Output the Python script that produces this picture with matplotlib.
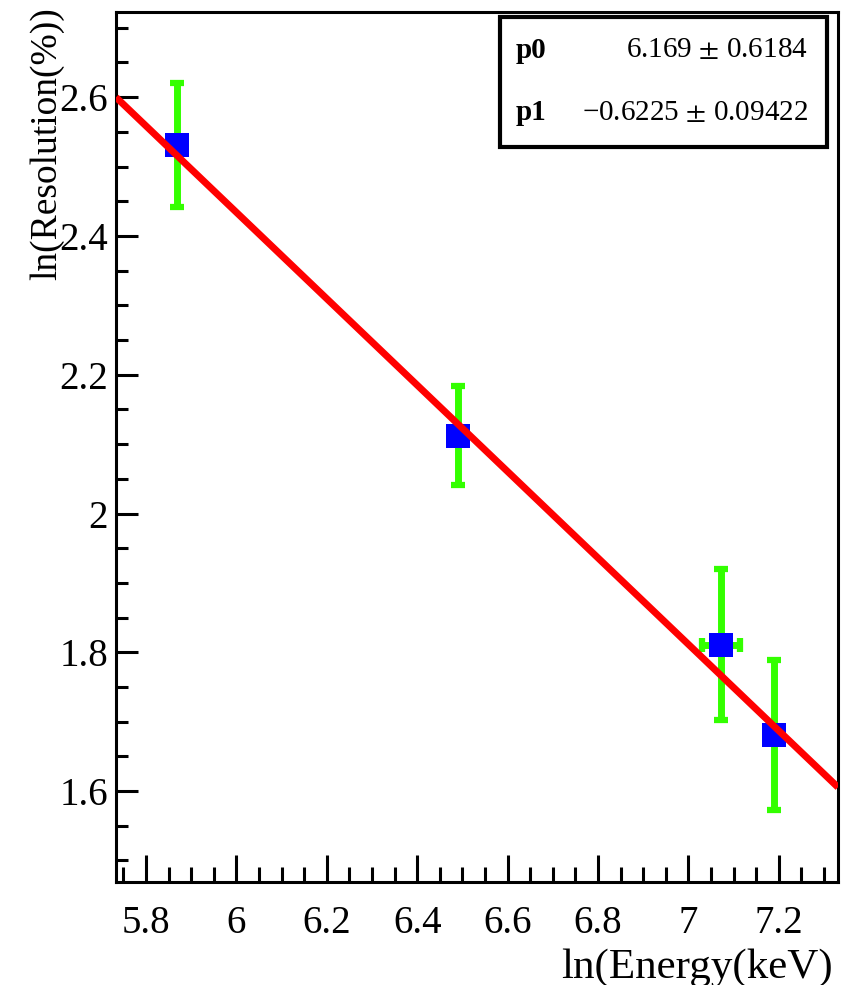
import numpy as np
import matplotlib
matplotlib.use('Agg')
import matplotlib.pyplot as plt
from matplotlib.ticker import MultipleLocator, FormatStrFormatter
from matplotlib.patches import Rectangle

# data
ln_energy = [5.869, 6.490, 7.072, 7.189]
ln_res = [2.531, 2.112, 1.811, 1.681]
res_err = [0.0895, 0.0714, 0.109, 0.108]
energy_err = [0.0, 0.0, 0.042, 0.0]

# fit parameters (pol1)
p0, p0_err = 6.169, 0.6184
p1, p1_err = -0.6225, 0.09422

x_range = (5.7336, 7.331)
y_range = (1.469, 2.7227)

plt.rcParams['font.family'] = ['Liberation Serif', 'DejaVu Serif']
plt.rcParams['mathtext.fontset'] = 'stix'

fig = plt.figure(figsize=(8.41, 9.85), dpi=100)
ax = fig.add_axes([116 / 841, 1 - 882 / 985, 722 / 841, 870 / 985])

# fit line
xf = np.linspace(x_range[0], x_range[1], 2)
ax.plot(xf, p0 + p1 * xf, color='#ff0000', lw=5, zorder=5, solid_capstyle='butt')

# points with errors
ax.errorbar(ln_energy, ln_res, yerr=res_err, xerr=energy_err, fmt='none',
            ecolor='#33ff00', elinewidth=5, capsize=5, capthick=4.5, zorder=3)
ax.plot(ln_energy, ln_res, 's', color='#0000ff', ms=17, mew=0, zorder=4)

ax.set_xlim(*x_range)
ax.set_ylim(*y_range)

ax.xaxis.set_major_locator(MultipleLocator(0.2))
ax.xaxis.set_minor_locator(MultipleLocator(0.05))
ax.yaxis.set_major_locator(MultipleLocator(0.2))
ax.yaxis.set_minor_locator(MultipleLocator(0.05))
ax.xaxis.set_major_formatter(FormatStrFormatter('%g'))
ax.yaxis.set_major_formatter(FormatStrFormatter('%g'))

ax.tick_params(axis='both', which='both', direction='in', width=2.2,
               top=False, right=False, labelsize=28)
ax.tick_params(axis='x', which='major', length=19.4, pad=16.5)
ax.tick_params(axis='x', which='minor', length=10.8)
ax.tick_params(axis='y', which='major', length=15.8, pad=5.8)
ax.tick_params(axis='y', which='minor', length=8.6)
for s in ax.spines.values():
    s.set_linewidth(2.2)

ax.set_xlabel('ln(Energy(keV)', fontsize=31, loc='right')
ax.xaxis.set_label_coords(0.993, -0.076)
ax.set_ylabel('ln(Resolution(%))', fontsize=27, loc='top')
ax.yaxis.set_label_coords(-0.072, 1.0057)

# stats box
ax.add_patch(Rectangle((0.532, 0.845), 0.453, 0.149, transform=ax.transAxes,
                       facecolor='white', edgecolor='black', lw=3, zorder=10))
ax.text(0.553, 0.956, 'p0', transform=ax.transAxes, fontsize=21,
        fontweight='bold', va='center', ha='left', zorder=11)
ax.text(0.958, 0.956, '%g $\\pm$ %g' % (p0, p0_err), transform=ax.transAxes,
        fontsize=21, va='center', ha='right', zorder=11)
ax.text(0.553, 0.884, 'p1', transform=ax.transAxes, fontsize=21,
        fontweight='bold', va='center', ha='left', zorder=11)
ax.text(0.958, 0.884, '\u2212%g $\\pm$ %g' % (-p1, p1_err), transform=ax.transAxes,
        fontsize=21, va='center', ha='right', zorder=11)

fig.savefig('out.png', dpi=100)
